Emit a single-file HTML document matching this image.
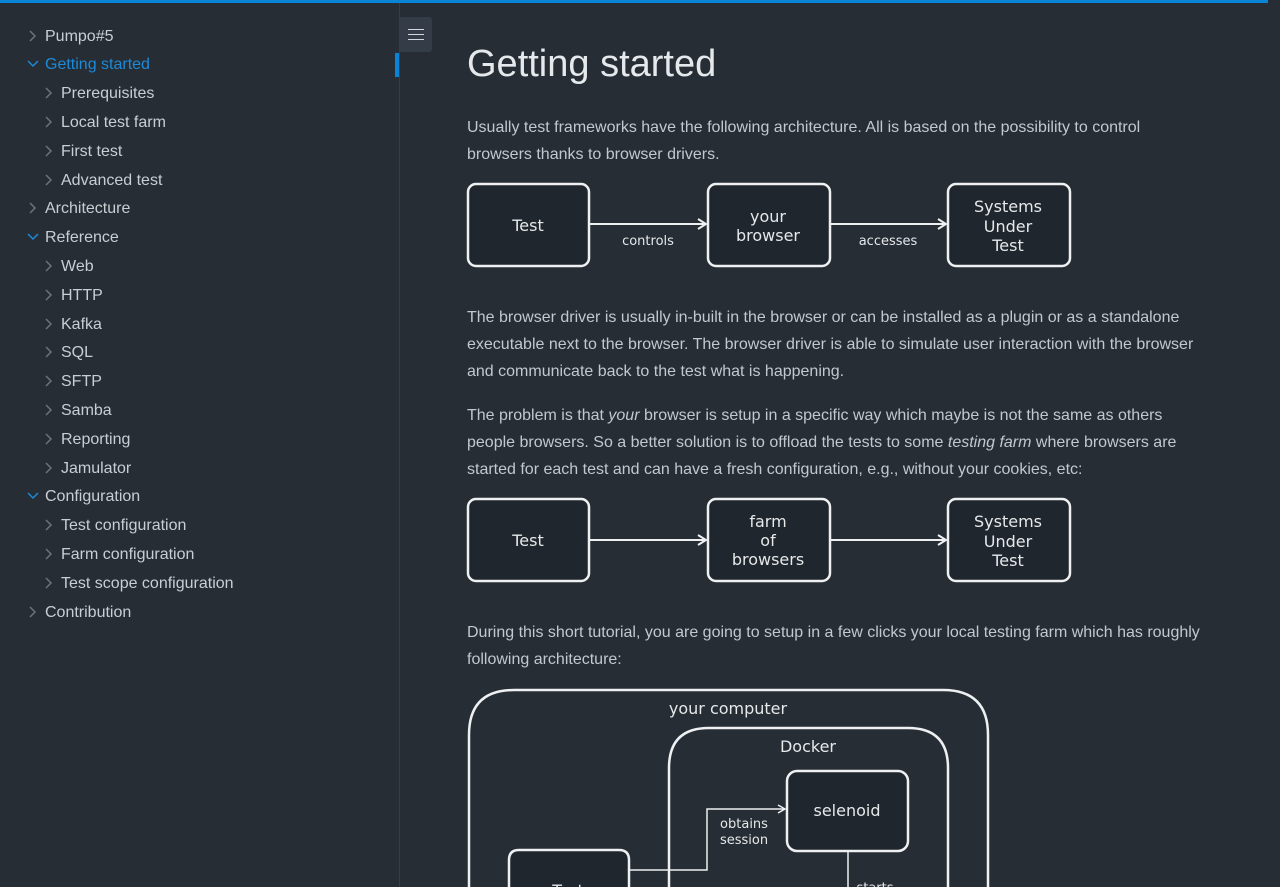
<!DOCTYPE html>
<html><head><style>
body{margin:0;width:1280px;height:887px;overflow:hidden;background:#262d35;font-family:"Liberation Sans",sans-serif;position:relative}
.top{position:absolute;left:0;top:0;width:1268px;height:3px;background:#0a84d6}
.side{position:absolute;left:0;top:3px;width:399px;height:884px;background:#262d34;border-right:1px solid #353d46}
.it{position:absolute;font-size:16px;color:#c9ced3;white-space:nowrap;margin-top:1px}
.it svg{position:absolute;top:2px}
.l1{left:45px}.l1 svg{left:-18px}
.l2{left:61px}.l2 svg{left:-18px}
.act{color:#1d8ad8}
.bar{position:absolute;left:395px;top:53px;width:4px;height:24px;background:#0a84d6}
.btn{position:absolute;left:400px;top:17px;width:32px;height:35px;background:#343d47;border-radius:0 3px 3px 0}
.btn i{position:absolute;left:8px;width:16px;height:1px;background:#d5d9dd}
h1{position:absolute;left:467px;top:43px;margin:0;font-size:38px;font-weight:normal;color:#e6e9ec}
p{position:absolute;left:467px;margin:0;width:740px;font-size:16px;line-height:27px;color:#c3c8cd}
</style></head><body>
<div class="top"></div>
<div class="side"></div>
<div class="bar"></div>
<div class="btn"><i style="top:12px"></i><i style="top:17px"></i><i style="top:22px"></i></div>
<div class="it l1" style="top:27px"><svg width="10" height="12"><path d="M3 1l5 5-5 5" stroke="#6b737b" fill="none" stroke-width="1.5"/></svg>Pumpo#5</div>
<div class="it l1 act" style="top:55px"><svg width="12" height="12"><path d="M1 3l5 5 5-5" stroke="#1d8ad8" fill="none" stroke-width="1.5"/></svg>Getting started</div>
<div class="it l2" style="top:84px"><svg width="10" height="12"><path d="M3 1l5 5-5 5" stroke="#6b737b" fill="none" stroke-width="1.5"/></svg>Prerequisites</div>
<div class="it l2" style="top:113px"><svg width="10" height="12"><path d="M3 1l5 5-5 5" stroke="#6b737b" fill="none" stroke-width="1.5"/></svg>Local test farm</div>
<div class="it l2" style="top:142px"><svg width="10" height="12"><path d="M3 1l5 5-5 5" stroke="#6b737b" fill="none" stroke-width="1.5"/></svg>First test</div>
<div class="it l2" style="top:171px"><svg width="10" height="12"><path d="M3 1l5 5-5 5" stroke="#6b737b" fill="none" stroke-width="1.5"/></svg>Advanced test</div>
<div class="it l1" style="top:199px"><svg width="10" height="12"><path d="M3 1l5 5-5 5" stroke="#6b737b" fill="none" stroke-width="1.5"/></svg>Architecture</div>
<div class="it l1" style="top:228px"><svg width="12" height="12"><path d="M1 3l5 5 5-5" stroke="#1d8ad8" fill="none" stroke-width="1.5"/></svg>Reference</div>
<div class="it l2" style="top:257px"><svg width="10" height="12"><path d="M3 1l5 5-5 5" stroke="#6b737b" fill="none" stroke-width="1.5"/></svg>Web</div>
<div class="it l2" style="top:286px"><svg width="10" height="12"><path d="M3 1l5 5-5 5" stroke="#6b737b" fill="none" stroke-width="1.5"/></svg>HTTP</div>
<div class="it l2" style="top:315px"><svg width="10" height="12"><path d="M3 1l5 5-5 5" stroke="#6b737b" fill="none" stroke-width="1.5"/></svg>Kafka</div>
<div class="it l2" style="top:343px"><svg width="10" height="12"><path d="M3 1l5 5-5 5" stroke="#6b737b" fill="none" stroke-width="1.5"/></svg>SQL</div>
<div class="it l2" style="top:372px"><svg width="10" height="12"><path d="M3 1l5 5-5 5" stroke="#6b737b" fill="none" stroke-width="1.5"/></svg>SFTP</div>
<div class="it l2" style="top:401px"><svg width="10" height="12"><path d="M3 1l5 5-5 5" stroke="#6b737b" fill="none" stroke-width="1.5"/></svg>Samba</div>
<div class="it l2" style="top:430px"><svg width="10" height="12"><path d="M3 1l5 5-5 5" stroke="#6b737b" fill="none" stroke-width="1.5"/></svg>Reporting</div>
<div class="it l2" style="top:459px"><svg width="10" height="12"><path d="M3 1l5 5-5 5" stroke="#6b737b" fill="none" stroke-width="1.5"/></svg>Jamulator</div>
<div class="it l1" style="top:487px"><svg width="12" height="12"><path d="M1 3l5 5 5-5" stroke="#1d8ad8" fill="none" stroke-width="1.5"/></svg>Configuration</div>
<div class="it l2" style="top:516px"><svg width="10" height="12"><path d="M3 1l5 5-5 5" stroke="#6b737b" fill="none" stroke-width="1.5"/></svg>Test configuration</div>
<div class="it l2" style="top:545px"><svg width="10" height="12"><path d="M3 1l5 5-5 5" stroke="#6b737b" fill="none" stroke-width="1.5"/></svg>Farm configuration</div>
<div class="it l2" style="top:574px"><svg width="10" height="12"><path d="M3 1l5 5-5 5" stroke="#6b737b" fill="none" stroke-width="1.5"/></svg>Test scope configuration</div>
<div class="it l1" style="top:603px"><svg width="10" height="12"><path d="M3 1l5 5-5 5" stroke="#6b737b" fill="none" stroke-width="1.5"/></svg>Contribution</div>

<h1>Getting started</h1>
<p style="top:114px">Usually test frameworks have the following architecture. All is based on the possibility to control browsers thanks to browser drivers.</p>
<p style="top:304px">The browser driver is usually in-built in the browser or can be installed as a plugin or as a standalone executable next to the browser. The browser driver is able to simulate user interaction with the browser and communicate back to the test what is happening.</p>
<p style="top:402px">The problem is that <i>your</i> browser is setup in a specific way which maybe is not the same as others people browsers. So a better solution is to offload the tests to some <i>testing farm</i> where browsers are started for each test and can have a fresh configuration, e.g., without your cookies, etc:</p>
<p style="top:619px">During this short tutorial, you are going to setup in a few clicks your local testing farm which has roughly following architecture:</p>

<svg style="position:absolute;left:0;top:0" width="1280" height="887" font-family="DejaVu Sans,sans-serif" fill="none" stroke="#eef0f2" stroke-width="2.5">
<g fill="#1f262d">
<rect x="468" y="184" width="121" height="82" rx="8"/><rect x="708" y="184" width="122" height="82" rx="8"/><rect x="948" y="184" width="122" height="82" rx="8"/>
<rect x="468" y="499" width="121" height="82" rx="8"/><rect x="708" y="499" width="122" height="82" rx="8"/><rect x="948" y="499" width="122" height="82" rx="8"/>
</g>
<path d="M589 224H706M830 224H946M589 540H706M830 540H946" stroke-width="2"/>
<path d="M698 219l8 5-8 5M938 219l8 5-8 5M698 535l8 5-8 5M938 535l8 5-8 5" stroke-width="2"/>
<path d="M469 887V735q0-45 45-45H943q45 0 45 45V887M669 887V768q0-40 40-40H908q40 0 40 40V887" stroke-width="2.5"/>
<rect x="787" y="771" width="121" height="80" rx="10" fill="#1f262d"/>
<path d="M509 887V860q0-10 10-10H619q10 0 10 10V887" fill="#1f262d"/>
<path d="M629 870H707V809H785M848 851V887" stroke-width="1.5"/>
<path d="M778 805l7 4-7 4" stroke-width="1.5"/>
<g fill="#e6e8ea" stroke="none" text-anchor="middle" font-size="16">
<text x="528" y="231">Test</text><text x="768" y="222">your</text><text x="768" y="241">browser</text>
<text x="1008" y="212">Systems</text><text x="1008" y="232">Under</text><text x="1008" y="251">Test</text>
<text x="528" y="546">Test</text><text x="768" y="527">farm</text><text x="768" y="546">of</text><text x="768" y="565">browsers</text>
<text x="1008" y="527">Systems</text><text x="1008" y="547">Under</text><text x="1008" y="566">Test</text>
<text x="728" y="714">your computer</text><text x="808" y="752">Docker</text><text x="847" y="816">selenoid</text>
<text x="568" y="896">Test</text>
<g font-size="13"><text x="648" y="245">controls</text><text x="888" y="245">accesses</text>
<text x="744" y="828">obtains</text><text x="744" y="844">session</text><text x="875" y="892">starts</text></g>
</g>
</svg>
</body></html>
